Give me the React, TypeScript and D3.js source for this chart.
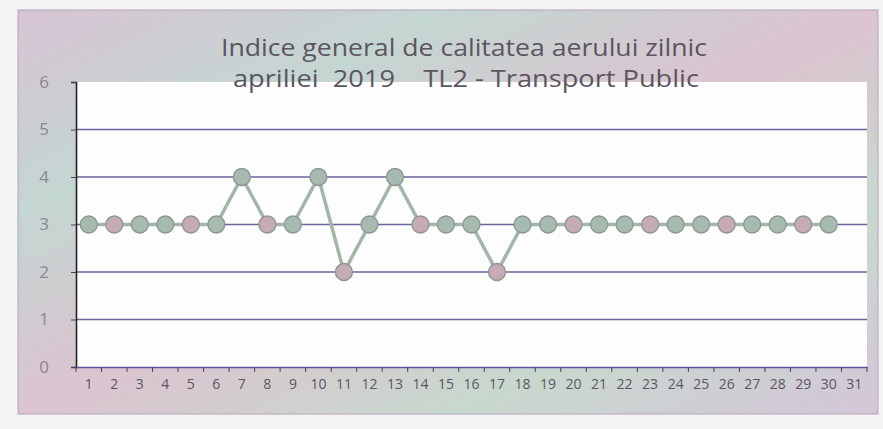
import React, { useEffect, useRef } from 'react';
import * as d3 from 'd3';

// zile din aprilie 2019 (axa are 31 de categorii)
const days = d3.range(1, 32).map(String);
const values = [3, 3, 3, 3, 3, 3, 4, 3, 3, 4, 2, 3, 4, 3, 3, 3, 2, 3, 3, 3, 3, 3, 3, 3, 3, 3, 3, 3, 3, 3];
const yTicks = [0, 1, 2, 3, 4, 5, 6];
const titleLines = ['Indice general de calitatea aerului zilnic', 'apriliei  2019    TL2 - Transport Public'];

const App = () => {
  const ref = useRef<SVGSVGElement>(null);
  const width = 883;
  const height = 429;
  const margin = { top: 82, right: 16, bottom: 62, left: 76 };

  useEffect(() => {
    const svg = d3.select(ref.current);
    svg.selectAll('*').remove();

    // background gradient (scanned pastel frame)
    const defs = svg.append('defs');
    const grad = defs.append('linearGradient')
      .attr('id', 'bg')
      .attr('x1', '0').attr('y1', '0').attr('x2', '1').attr('y2', '1');
    [['0%', '#d8c4d4'], ['25%', '#c4d6d2'], ['50%', '#dcc4d0'], ['75%', '#c8d8ce'], ['100%', '#d4c6d8']]
      .forEach(([o, c]) => grad.append('stop').attr('offset', o).attr('stop-color', c));

    svg.append('rect').attr('width', width).attr('height', height).attr('fill', '#f4f2f4');
    svg.append('rect')
      .attr('x', 18).attr('y', 10)
      .attr('width', 860).attr('height', 404)
      .attr('fill', 'url(#bg)')
      .attr('stroke', '#b0a8b4');

    const x = d3.scaleBand()
      .domain(days)
      .range([margin.left, width - margin.right]);

    const y = d3.scaleLinear()
      .domain([0, 6])
      .range([height - margin.bottom, margin.top]);

    // plot area
    svg.append('rect')
      .attr('x', margin.left)
      .attr('y', margin.top)
      .attr('width', width - margin.right - margin.left)
      .attr('height', height - margin.bottom - margin.top)
      .attr('fill', '#fdfdfe');

    // gridlines
    svg.append('g')
      .selectAll('line')
      .data(yTicks.filter(d => d > 0 && d < 6))
      .join('line')
      .attr('x1', margin.left)
      .attr('x2', width - margin.right)
      .attr('y1', d => y(d))
      .attr('y2', d => y(d))
      .attr('stroke', '#6a64a0')
      .attr('stroke-width', 1.3);

    // y axis
    const yAxis = svg.append('g')
      .attr('transform', `translate(${margin.left},0)`)
      .call(d3.axisLeft(y).tickValues(yTicks).tickSize(5).tickPadding(22).tickFormat(d3.format('d')));
    yAxis.select('.domain').attr('stroke', '#222').attr('stroke-width', 1.6);
    yAxis.selectAll('.tick line').attr('stroke', '#444');
    yAxis.selectAll('text')
      .attr('font-family', 'Open Sans, sans-serif')
      .attr('font-size', 17)
      .attr('fill', '#8a8690');

    // x axis with ticks at category boundaries
    const xAxis = svg.append('g')
      .attr('transform', `translate(0,${height - margin.bottom})`)
      .call(d3.axisBottom(x).tickSize(0).tickPadding(12));
    xAxis.select('.domain').attr('stroke', '#5a56a0').attr('stroke-width', 1.6);
    xAxis.selectAll('text')
      .attr('font-family', 'Open Sans, sans-serif')
      .attr('font-size', 14)
      .attr('fill', '#5a5664');
    xAxis.append('g')
      .selectAll('line')
      .data(days.concat(['end']))
      .join('line')
      .attr('x1', (d, i) => margin.left + i * x.step())
      .attr('x2', (d, i) => margin.left + i * x.step())
      .attr('y1', 0)
      .attr('y2', 5)
      .attr('stroke', '#444');

    // series
    const pts = values.map((v, i) => ({ day: days[i], v }));
    const line = d3.line<{ day: string; v: number }>()
      .x(d => x(d.day)! + x.bandwidth() / 2)
      .y(d => y(d.v));

    svg.append('path')
      .datum(pts)
      .attr('d', line)
      .attr('fill', 'none')
      .attr('stroke', '#a4b6a6')
      .attr('stroke-width', 3.5);

    const markerFill = d3.scaleOrdinal<string>()
      .domain(['a', 'b'])
      .range(['#a6bab0', '#c6aab6']);

    svg.append('g')
      .selectAll('circle')
      .data(pts)
      .join('circle')
      .attr('cx', d => x(d.day)! + x.bandwidth() / 2)
      .attr('cy', d => y(d.v))
      .attr('r', 8.5)
      .attr('fill', (d, i) => markerFill(i % 3 === 1 ? 'b' : 'a'))
      .attr('stroke', '#8a9690')
      .attr('stroke-width', 1.3);

    // title
    svg.append('g')
      .selectAll('text')
      .data(titleLines)
      .join('text')
      .attr('x', (d, i) => (i === 0 ? 464 : 466))
      .attr('y', (d, i) => 56 + i * 31)
      .attr('text-anchor', 'middle')
      .attr('font-family', 'Open Sans, sans-serif')
      .attr('font-size', 23)
      .attr('fill', '#5a5660')
      .attr('textLength', (d, i) => (i === 0 ? 486 : 466))
      .attr('lengthAdjust', 'spacingAndGlyphs')
      .style('white-space', 'pre')
      .text(d => d);
  }, []);

  return (
    <svg
      ref={ref}
      width={width}
      height={height}
      style={{ position: 'fixed', left: 0, top: 0, display: 'block' }}
    />
  );
};

export default App;
